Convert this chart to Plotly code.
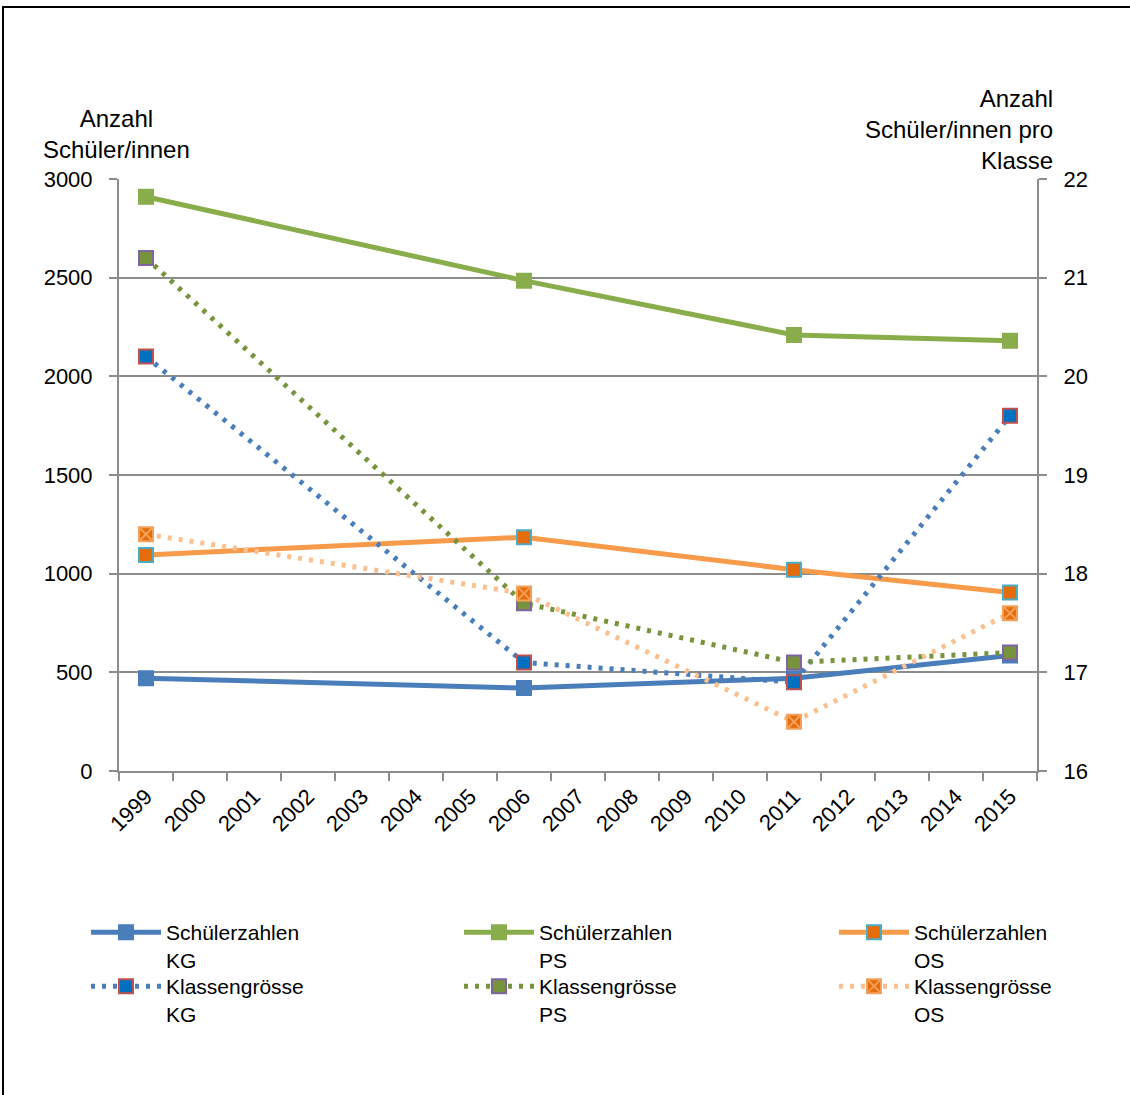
import plotly.graph_objects as go

# Years on the category axis and the years that have measurements
years = [str(y) for y in range(1999, 2016)]
sample_years = ["1999", "2006", "2011", "2015"]

# Number of pupils (left axis)
schueler_kg = [470, 420, 470, 585]
schueler_ps = [2910, 2485, 2210, 2180]
schueler_os = [1095, 1185, 1020, 905]

# Pupils per class (right axis)
klasse_kg = [20.2, 17.1, 16.9, 19.6]
klasse_ps = [21.2, 17.7, 17.1, 17.2]
klasse_os = [18.4, 17.8, 16.5, 17.6]

W, H = 1130, 1095
FONT = "Liberation Sans, Arial, sans-serif"
GRID = "#8c8c8c"
FS_TICK = 22
FS_LEG = 21
FS_TITLE = 24

# plot-area edges in pixels
PX_L, PX_R, PX_T, PX_B = 119, 1037, 179, 771


def px_x(p):
    return p / W


def px_y(p):
    return (H - p) / H


fig = go.Figure()

solid = [
    ("Schülerzahlen<br>KG", schueler_kg, "#4A7EBB", "#4A7EBB", "#4A7EBB", "square", "legend"),
    ("Schülerzahlen<br>PS", schueler_ps, "#8AAD4C", "#8AAD4C", "#8AAD4C", "square", "legend2"),
    ("Schülerzahlen<br>OS", schueler_os, "#F79A4A", "#E46C0A", "#4BACC6", "square", "legend3"),
]
dotted = [
    ("Klassengrösse<br>KG", klasse_kg, "#4A7EBB", "#0070C0", "#C0504D", "square", "legend4"),
    ("Klassengrösse<br>PS", klasse_ps, "#77933C", "#77933C", "#8064A2", "square", "legend5"),
    ("Klassengrösse<br>OS", klasse_os, "#FAC090", "#E46C0A", "#F5A05A", "square-x", "legend6"),
]

for name, vals, lc, mc, mlc, sym, lg in solid:
    fig.add_trace(go.Scatter(
        x=sample_years, y=vals, name=name, mode="lines+markers",
        line=dict(color=lc, width=5),
        marker=dict(symbol=sym, size=14, color=mc, line=dict(color=mlc, width=2)),
        legend=lg, yaxis="y",
    ))

for name, vals, lc, mc, mlc, sym, lg in dotted:
    fig.add_trace(go.Scatter(
        x=sample_years, y=vals, name=name, mode="lines+markers",
        line=dict(color=lc, width=5, dash="4px,7px"),
        marker=dict(symbol=sym, size=14, color=mc, line=dict(color=mlc, width=2)),
        legend=lg, yaxis="y2",
    ))

axis_common = dict(
    showline=True, linecolor=GRID, linewidth=2,
    ticks="outside", ticklen=8, tickwidth=2, tickcolor=GRID,
    tickfont=dict(family=FONT, size=FS_TICK, color="#000"),
    zeroline=False, automargin=False,
)

fig.update_layout(
    width=W, height=H, autosize=False,
    margin=dict(l=0, r=0, t=0, b=0, pad=0, autoexpand=False),
    paper_bgcolor="white", plot_bgcolor="white",
    font=dict(family=FONT, size=FS_LEG, color="#000"),
    xaxis=dict(
        type="category", categoryorder="array", categoryarray=years,
        tickvals=years, ticktext=years,
        range=[-0.5, 16.5], tickson="boundaries", tickangle=-45,
        showgrid=False, domain=[px_x(PX_L), px_x(PX_R)],
        anchor="y", ticklabelstandoff=2,
        **axis_common,
    ),
    yaxis=dict(
        range=[0, 3000], dtick=500, showgrid=True, gridcolor=GRID, gridwidth=2,
        domain=[px_y(PX_B), px_y(PX_T)], ticklabelstandoff=12,
        **axis_common,
    ),
    yaxis2=dict(
        range=[16, 22], dtick=1, overlaying="y", side="right", showgrid=False,
        anchor="x", ticklabelstandoff=12,
        **axis_common,
    ),
    showlegend=True,
)

# one small legend per series, arranged in three columns and two rows
col_x = [86, 459, 834]
row_y = [912, 966]
legend_keys = ["legend", "legend2", "legend3", "legend4", "legend5", "legend6"]
for i, key in enumerate(legend_keys):
    fig.update_layout({key: dict(
        x=px_x(col_x[i % 3]), y=px_y(row_y[i // 3]),
        xanchor="left", yanchor="top", orientation="v",
        itemwidth=70, valign="top", bgcolor="rgba(0,0,0,0)",
        font=dict(family=FONT, size=FS_LEG, color="#000"),
    )})

# axis titles
fig.add_annotation(
    text="Anzahl<br>Schüler/innen", xref="paper", yref="paper",
    x=px_x(116), y=px_y(134), xanchor="center", yanchor="middle",
    align="center", showarrow=False, font=dict(family=FONT, size=FS_TITLE, color="#000"),
)
fig.add_annotation(
    text="Anzahl<br>Schüler/innen pro<br>Klasse", xref="paper", yref="paper",
    x=px_x(1055), y=px_y(129.5), xanchor="right", yanchor="middle",
    align="right", showarrow=False, font=dict(family=FONT, size=FS_TITLE, color="#000"),
)

# outer frame of the chart area
fig.add_shape(
    type="rect", xref="paper", yref="paper",
    x0=px_x(3), x1=1.05, y0=-0.05, y1=px_y(7),
    line=dict(color="#000", width=2), fillcolor="rgba(0,0,0,0)", layer="above",
)

fig.write_html("out.html", post_script="document.body.style.margin='0';")
